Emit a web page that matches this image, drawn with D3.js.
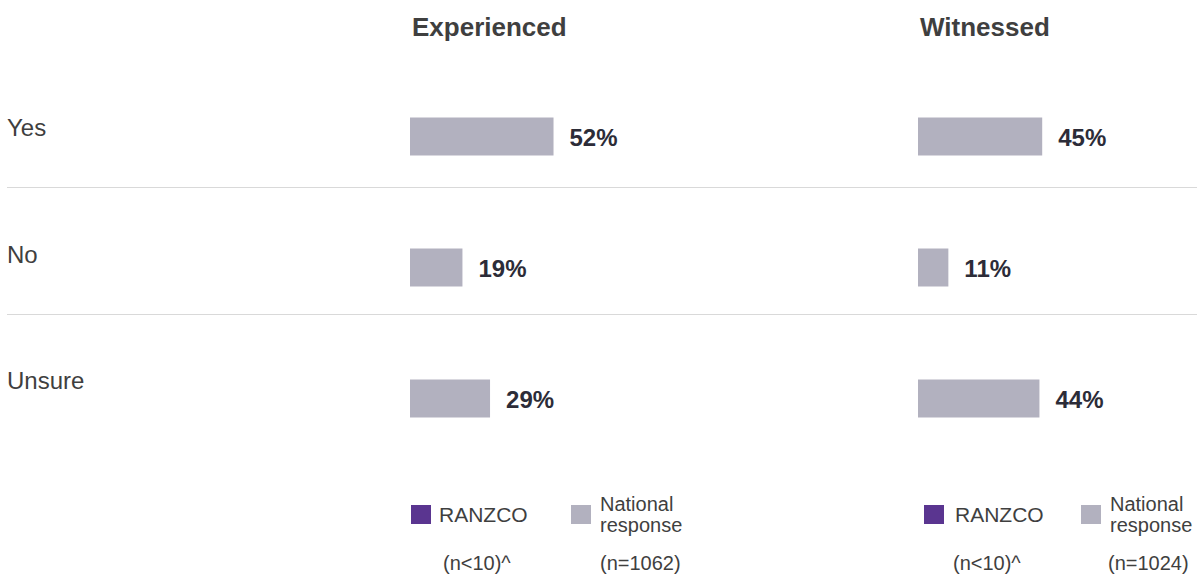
<!DOCTYPE html>
<html>
<head>
<meta charset="utf-8">
<script src="https://cdn.jsdelivr.net/npm/d3@7"></script>
<style>
  html, body { margin: 0; padding: 0; background: #ffffff; }
  svg { display: block; font-family: "Liberation Sans", Arial, sans-serif; }
</style>
</head>
<body>
<svg id="chart" width="1197" height="576"></svg>
<script>
// Survey responses: share answering each option, by panel
const categories = ["Yes", "No", "Unsure"];
const panels = ["Experienced", "Witnessed"];
const experiencedNational = [52, 19, 29];
const witnessedNational = [45, 11, 44];
const seriesNames = ["RANZCO", "National response"];
const ranzcoSampleLabels = ["(n<10)^", "(n<10)^"];
const nationalSampleLabels = ["(n=1062)", "(n=1024)"];

const panelValues = [experiencedNational, witnessedNational];

const W = 1197, H = 576;
const colors = { ranzco: "#5a3590", national: "#b2b1bf", text: "#3f3f3f", value: "#2c2c38", rule: "#d9d9d9" };

const svg = d3.select("#chart");

// Row positions: labels/rules and bars use slightly different vertical rhythms
const labelY = d3.scaleBand().domain(categories).range([64, 444]).paddingInner(0).paddingOuter(0);
const barY = d3.scaleBand().domain(categories).range([71, 464]).paddingInner(0.71).paddingOuter(0.355);

// Panel layout
const panelX = [410, 918];
const barSpan = 276;
const legendLayout = [
  { ranzcoSwatch: 411, ranzcoText: 439, natSwatch: 571, natText: 600, ranzcoN: 443, natN: 600 },
  { ranzcoSwatch: 924, ranzcoText: 955, natSwatch: 1081, natText: 1110, ranzcoN: 953, natN: 1108 }
];

// Category labels
svg.append("g").selectAll("text")
  .data(categories)
  .join("text")
  .attr("x", 7)
  .attr("y", d => labelY(d) + labelY.bandwidth() / 2)
  .attr("dominant-baseline", "central")
  .attr("font-size", 24)
  .attr("fill", colors.text)
  .text(d => d);

// Separator rules between rows
svg.append("g").selectAll("line")
  .data(categories.slice(0, -1))
  .join("line")
  .attr("x1", 7)
  .attr("x2", W)
  .attr("y1", d => Math.round(labelY(d) + labelY.bandwidth() / 2 + 60) + 0.5)
  .attr("y2", d => Math.round(labelY(d) + labelY.bandwidth() / 2 + 60) + 0.5)
  .attr("stroke", colors.rule)
  .attr("stroke-width", 1.2);

panels.forEach((name, p) => {
  const x = d3.scaleLinear().domain([0, 100]).range([panelX[p], panelX[p] + barSpan]);
  const g = svg.append("g");
  const vals = panelValues[p];

  // Panel title
  g.append("text")
    .attr("x", panelX[p] + 2)
    .attr("y", 27)
    .attr("dominant-baseline", "central")
    .attr("font-size", 26)
    .attr("font-weight", "bold")
    .attr("fill", colors.text)
    .text(name);

  // National response bars
  g.selectAll("rect.bar")
    .data(categories)
    .join("rect")
    .attr("class", "bar")
    .attr("x", x(0))
    .attr("y", d => barY(d))
    .attr("width", (d, i) => x(vals[i]) - x(0))
    .attr("height", barY.bandwidth())
    .attr("fill", colors.national);

  // Value labels
  g.selectAll("text.val")
    .data(categories)
    .join("text")
    .attr("class", "val")
    .attr("x", (d, i) => x(vals[i]) + 16)
    .attr("y", d => barY(d) + barY.bandwidth() / 2 + 1)
    .attr("dominant-baseline", "central")
    .attr("font-size", 24)
    .attr("font-weight", "bold")
    .attr("fill", colors.value)
    .text((d, i) => vals[i] + "%");

  // Legend
  const L = legendLayout[p];
  g.append("rect")
    .attr("x", L.ranzcoSwatch).attr("y", 505)
    .attr("width", 20).attr("height", 19)
    .attr("fill", colors.ranzco);
  g.append("text")
    .attr("x", L.ranzcoText).attr("y", 514)
    .attr("dominant-baseline", "central")
    .attr("font-size", 21)
    .attr("fill", colors.text)
    .text(seriesNames[0]);

  g.append("rect")
    .attr("x", L.natSwatch).attr("y", 505)
    .attr("width", 20).attr("height", 19)
    .attr("fill", colors.national);
  const nat = g.append("text")
    .attr("x", L.natText).attr("y", 511)
    .attr("font-size", 20)
    .attr("fill", colors.text);
  const words = seriesNames[1].split(" ");
  nat.append("tspan").attr("x", L.natText).attr("dy", 0).text(words[0]);
  nat.append("tspan").attr("x", L.natText).attr("dy", 21).text(words[1]);

  // Sample sizes
  g.append("text")
    .attr("x", L.ranzcoN).attr("y", 563)
    .attr("dominant-baseline", "central")
    .attr("font-size", 20)
    .attr("fill", colors.text)
    .text(ranzcoSampleLabels[p]);
  g.append("text")
    .attr("x", L.natN).attr("y", 563)
    .attr("dominant-baseline", "central")
    .attr("font-size", 20)
    .attr("fill", colors.text)
    .text(nationalSampleLabels[p]);
});
</script>
</body>
</html>
